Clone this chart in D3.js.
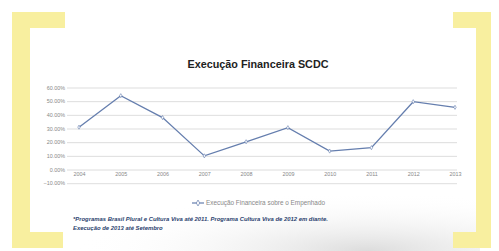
<!DOCTYPE html>
<html>
<head>
<meta charset="utf-8">
<script src="https://cdn.jsdelivr.net/npm/d3@7"></script>
<style>
body { margin: 0; background: #fff; }
svg { display: block; font-family: "Liberation Sans", Arial, sans-serif; }
</style>
</head>
<body>
<div id="chart"></div>
<script>
// data
let years = ["2004", "2005", "2006", "2007", "2008", "2009", "2010", "2011", "2012", "2013"];
let execucao = [31, 54, 38, 10, 20.3, 30.6, 13.5, 16, 49.6, 45.5];
let yTicks = [-10, 0, 10, 20, 30, 40, 50, 60];
let footnote = [
  "*Programas Brasil Plural e Cultura Viva até 2011. Programa Cultura Viva de 2012 em diante.",
  "Execução de 2013 até Setembro"
];

let boxWidth = 499;
let boxHeight = 251;

let svg = d3.select("#chart")
  .append("svg")
  .attr("width", boxWidth)
  .attr("height", boxHeight);

// soft grey shading bottom right of the slide
let defs = svg.append("defs");
let grad = defs.append("radialGradient")
  .attr("id", "shade")
  .attr("cx", 0.75).attr("cy", 1).attr("r", 0.65);
grad.append("stop").attr("offset", "0%").attr("stop-color", "#dcdcdc");
grad.append("stop").attr("offset", "100%").attr("stop-color", "#ffffff").attr("stop-opacity", 0);

svg.append("rect").attr("width", boxWidth).attr("height", boxHeight).attr("fill", "#fff");
svg.append("rect").attr("x", 30).attr("y", 160).attr("width", 450).attr("height", 91).attr("fill", "url(#shade)");

// yellow brackets
let yellow = "#f8ef9f";
let brackets = [
  [12, 12, 53, 16], [12, 12, 18, 236], [12, 232, 51, 16],
  [453, 12, 38, 16], [476, 12, 15, 236], [453, 232, 38, 16]
];
svg.selectAll("rect.br")
  .data(brackets)
  .enter()
  .append("rect")
  .attr("class", "br")
  .attr("x", d => d[0]).attr("y", d => d[1])
  .attr("width", d => d[2]).attr("height", d => d[3])
  .attr("fill", yellow);

// plot area
let margin = { left: 79, right: 44 };
let width = boxWidth - margin.left - margin.right;

let x = d3.scalePoint()
  .domain(years)
  .range([margin.left, margin.left + 376]);

let y = d3.scaleLinear()
  .domain([-10, 60])
  .range([183.2, 87.5]);

// gridlines + y labels (gridlines poke out left of the axis like ticks)
let yAxis = d3.axisLeft(y)
  .tickValues(yTicks)
  .tickSize(-(width + 2))
  .tickPadding(14)
  .tickFormat(d => d3.format(".2f")(d) + "%");

let gy = svg.append("g")
  .attr("transform", `translate(${margin.left}, 0)`)
  .call(yAxis);
gy.select(".domain").remove();
gy.selectAll("line").attr("stroke", "#d4d4d4").attr("stroke-width", 0.8).attr("x1", -12);
gy.selectAll("text").attr("fill", "#888").attr("font-size", 5.4);

// x labels under the 0% line
let xAxis = d3.axisBottom(x).tickSize(0).tickPadding(2.5);
let gx = svg.append("g")
  .attr("transform", `translate(0, ${y(0)})`)
  .call(xAxis);
gx.select(".domain").remove();
gx.selectAll("text").attr("fill", "#888").attr("font-size", 5.4);

// series
let line = d3.line()
  .x((d, i) => x(years[i]))
  .y(d => y(d));

svg.append("path")
  .datum(execucao)
  .attr("d", line)
  .attr("fill", "none")
  .attr("stroke", "#657eae")
  .attr("stroke-width", 1.3);

let diamond = d3.symbol().type(d3.symbolDiamond).size(5);
svg.selectAll("path.mk")
  .data(execucao)
  .enter()
  .append("path")
  .attr("class", "mk")
  .attr("d", diamond)
  .attr("transform", (d, i) => `translate(${x(years[i])}, ${y(d)})`)
  .attr("fill", "#fff")
  .attr("stroke", "#657eae")
  .attr("stroke-width", 0.6);

// title
svg.append("text")
  .attr("x", 258)
  .attr("y", 68)
  .attr("text-anchor", "middle")
  .attr("font-size", 10.8)
  .attr("font-weight", "bold")
  .attr("fill", "#222")
  .text("Execução Financeira SCDC");

// legend
let lg = svg.append("g").attr("transform", "translate(192, 203)");
lg.append("line").attr("x1", 0).attr("x2", 12).attr("stroke", "#657eae").attr("stroke-width", 1.2);
lg.append("path").attr("d", d3.symbol().type(d3.symbolDiamond).size(10))
  .attr("transform", "translate(6, 0)")
  .attr("fill", "#fff").attr("stroke", "#657eae").attr("stroke-width", 0.7);
lg.append("text")
  .attr("x", 14)
  .attr("y", 2.2)
  .attr("font-size", 6.4)
  .attr("fill", "#888")
  .text("Execução Financeira sobre o Empenhado");

// footnote
svg.selectAll("text.fn")
  .data(footnote)
  .enter()
  .append("text")
  .attr("class", "fn")
  .attr("x", 73)
  .attr("y", (d, i) => 221 + i * 8.5)
  .attr("font-size", 5.9)
  .attr("font-style", "italic")
  .attr("font-weight", "bold")
  .attr("fill", "#2a3f6e")
  .text(d => d);
</script>
</body>
</html>
